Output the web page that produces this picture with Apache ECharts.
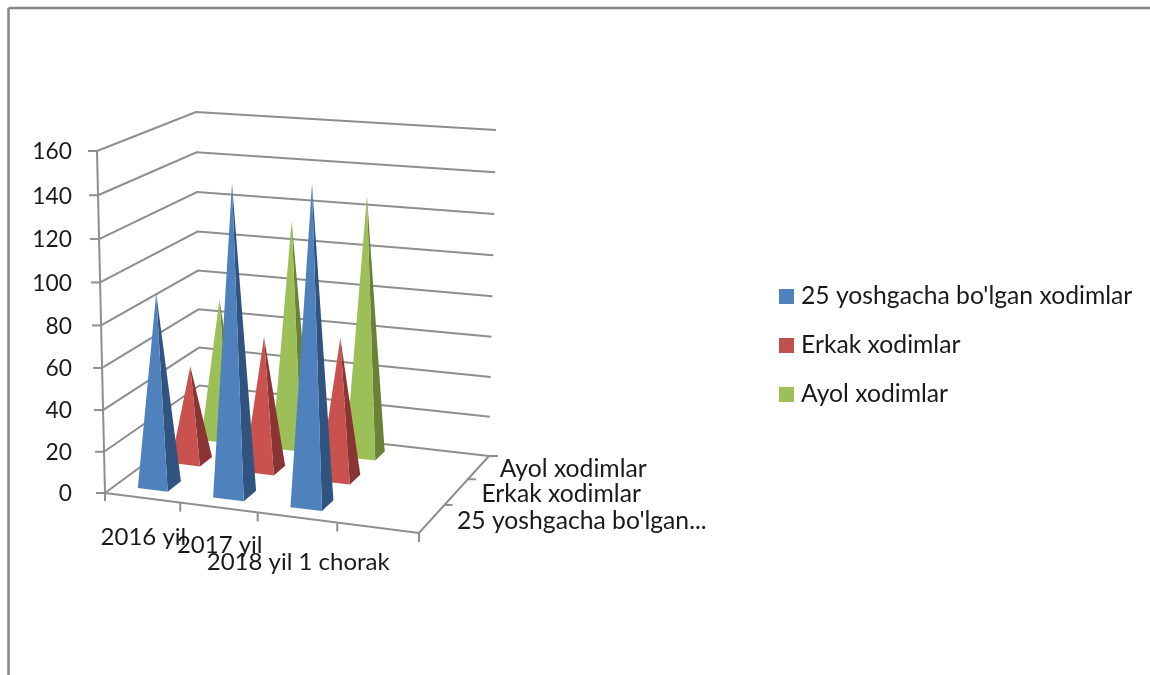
<!DOCTYPE html>
<html>
<head>
<meta charset="utf-8">
<style>html,body{margin:0;padding:0;background:#fff}#c{width:1150px;height:675px}</style>
<script src="https://cdn.jsdelivr.net/npm/echarts@6/dist/echarts.min.js"></script>
</head>
<body>
<div id="c"></div>
<script>
const categories = ['2016 yil', '2017 yil', '2018 yil 1 chorak', ''];
const depthLabels = ["25 yoshgacha bo'lgan...", 'Erkak xodimlar', 'Ayol xodimlar'];
const seriesNames = ["25 yoshgacha bo'lgan xodimlar", 'Erkak xodimlar', 'Ayol xodimlar'];
const yTicks = [0, 20, 40, 60, 80, 100, 120, 140, 160];
const youngStaff = [92, 145, 147];
const maleStaff = [47, 65, 68];
const femaleStaff = [71, 113, 128];

const FONT = '24.7px Lato, "Open Sans", sans-serif';
const CAT_FONT = '24px Lato, "Open Sans", sans-serif';
const NUM_FONT = '22.8px Lato, "Open Sans", sans-serif';
const TEXT = '#1a1a1a';
const LINE = '#8e8e8e';
// Corners of the drawn box: [front|back][left|right][bottom|top]
const box = {
  flb: [105, 493], flt: [97, 151], frb: [419, 533], frt: [423, 168],
  blb: [200, 423], blt: [196, 112], brb: [489, 456], brt: [496, 130]
};
const mix = (a, b, t) => [a[0] + (b[0] - a[0]) * t, a[1] + (b[1] - a[1]) * t];
// Projects a grid pixel plus a depth fraction into the 3D box.
function project(rect, px, py, depth) {
  let u = (px - rect.x) / rect.width;
  let w = (rect.y + rect.height - py) / rect.height;
  u = u - 0.055 * u * (1 - u);
  w = w - 0.04 * w * (1 - w);
  const d = depth + 0.14 * depth * (1 - depth);
  const fb = mix(box.flb, box.frb, u), ft = mix(box.flt, box.frt, u);
  const bb = mix(box.blb, box.brb, u), bt = mix(box.blt, box.brt, u);
  return mix(mix(fb, bb, d), mix(ft, bt, d), w);
}
const shades = [
  { front: '#4F81BD', side: '#30547F' },
  { front: '#C9524F', side: '#8A3433' },
  { front: '#9DBF57', side: '#6A8237' }
];
function pyramid(rowIndex) {
  return function (params, api) {
    const rect = params.coordSys;
    const top = api.coord([api.value(0), api.value(1)]);
    const base = api.coord([api.value(0), 0]);
    const half = api.size([1, 0])[0] * 0.2;
    const dc = (rowIndex + 0.5) / depthLabels.length;
    const dh = 0.2 / depthLabels.length;
    const fl = project(rect, base[0] - half, base[1], dc - dh);
    const fr = project(rect, base[0] + half, base[1], dc - dh);
    const br = project(rect, base[0] + half, base[1], dc + dh);
    const apex = project(rect, top[0], top[1], dc);
    return {
      type: 'group',
      children: [
        { type: 'polygon', shape: { points: [fr, br, apex] }, style: { fill: shades[rowIndex].side } },
        { type: 'polygon', shape: { points: [fl, fr, apex] }, style: { fill: shades[rowIndex].front } }
      ]
    };
  };
}
function gridRow(params, api) {
  const rect = params.coordSys;
  const y = api.coord([0, api.value(0)])[1];
  const left = rect.x, right = rect.x + rect.width;
  const a = project(rect, left, y, 0), b = project(rect, left, y, 1), c = project(rect, right, y, 1);
  return {
    type: 'group',
    children: [
      { type: 'polyline', shape: { points: [a, b, c] }, style: { stroke: LINE, lineWidth: 2, fill: null } },
      { type: 'line', shape: { x1: a[0] - 9, y1: a[1], x2: a[0], y2: a[1] }, style: { stroke: LINE, lineWidth: 2 } },
      { type: 'text', style: { text: String(api.value(0)), x: 72, y: a[1] + 1, align: 'right', verticalAlign: 'middle', font: NUM_FONT, fill: TEXT } }
    ]
  };
}
const xLabelDrop = [40, 38, 45];
const depthLabelGap = [25, 25, 21];
function floorAxes(params, api) {
  const rect = params.coordSys;
  const yb = rect.y + rect.height, xl = rect.x, xr = rect.x + rect.width;
  const children = [];
  const fl = project(rect, xl, yb, 0), fr = project(rect, xr, yb, 0), br = project(rect, xr, yb, 1);
  children.push({ type: 'polyline', shape: { points: [fl, fr, br] }, style: { stroke: LINE, lineWidth: 2, fill: null } });
  children.push({ type: 'line', shape: { x1: br[0], y1: br[1], x2: br[0] + 9, y2: br[1] }, style: { stroke: LINE, lineWidth: 2 } });
  children.push({ type: 'line', shape: { x1: fl[0], y1: fl[1] + 8, x2: fl[0], y2: fl[1] }, style: { stroke: LINE, lineWidth: 2 } });
  children.push({ type: 'polyline', shape: { points: yTicks.map(v => project(rect, xl, api.coord([0, v])[1], 0)) }, style: { stroke: LINE, lineWidth: 2, fill: null } });
  const slot = rect.width / categories.length;
  categories.forEach((name, i) => {
    const t = project(rect, xl + slot * (i + 1), yb, 0);
    children.push({ type: 'line', shape: { x1: t[0], y1: t[1], x2: t[0], y2: t[1] + 9 }, style: { stroke: LINE, lineWidth: 2 } });
    if (name) {
      const c = project(rect, xl + slot * (i + 0.5), yb, 0);
      children.push({ type: 'text', style: { text: name, x: c[0] + 1, y: c[1] + xLabelDrop[i], align: 'center', verticalAlign: 'middle', font: CAT_FONT, fill: TEXT } });
    }
  });
  depthLabels.forEach((name, i) => {
    const n = depthLabels.length;
    const t = project(rect, xr, yb, (i + 1) / n);
    if (i < n - 1) children.push({ type: 'line', shape: { x1: t[0], y1: t[1], x2: t[0] + 8, y2: t[1] }, style: { stroke: LINE, lineWidth: 2 } });
    const c = project(rect, xr, yb, (i + 0.5) / n);
    children.push({ type: 'text', style: { text: name, x: c[0] + depthLabelGap[i], y: c[1] + 2, align: 'left', verticalAlign: 'middle', font: FONT, fill: TEXT } });
  });
  return { type: 'group', children };
}
const chart = echarts.init(document.getElementById('c'), null, { renderer: 'canvas' });
chart.setOption({
  animation: false,
  backgroundColor: '#fff',
  grid: { left: 105, right: 731, top: 151, bottom: 182 },
  xAxis: { type: 'category', data: categories, show: false },
  yAxis: { type: 'value', min: 0, max: 160, interval: 20, show: false },
  legend: {
    orient: 'vertical', left: 779, top: 284, padding: 0, itemGap: 24, itemWidth: 15, itemHeight: 15, icon: 'rect',
    data: seriesNames, selectedMode: false,
    textStyle: { fontFamily: 'Lato', fontSize: 24.7, lineHeight: 24, color: TEXT, padding: [0, 0, 0, 2] }
  },
  graphic: [
    { type: 'line', shape: { x1: 8.5, y1: 8, x2: 1150, y2: 8 }, style: { stroke: '#868686', lineWidth: 2.5 } },
    { type: 'line', shape: { x1: 8.5, y1: 8, x2: 8.5, y2: 675 }, style: { stroke: '#868686', lineWidth: 2.5 } }
  ],
  series: [
    { type: 'custom', name: 'grid', z: 1, silent: true, data: yTicks.map(v => [v]), encode: { y: 0 }, renderItem: gridRow },
    { type: 'custom', name: 'axes', z: 1, silent: true, data: [[0]], renderItem: floorAxes },
    { type: 'custom', name: seriesNames[0], z: 5, silent: true, itemStyle: { color: shades[0].front }, data: youngStaff.map((v, i) => [i, v]), encode: { x: 0, y: 1 }, renderItem: pyramid(0) },
    { type: 'custom', name: seriesNames[1], z: 4, silent: true, itemStyle: { color: '#C0504D' }, data: maleStaff.map((v, i) => [i, v]), encode: { x: 0, y: 1 }, renderItem: pyramid(1) },
    { type: 'custom', name: seriesNames[2], z: 3, silent: true, itemStyle: { color: shades[2].front }, data: femaleStaff.map((v, i) => [i, v]), encode: { x: 0, y: 1 }, renderItem: pyramid(2) }
  ]
});
</script>
</body>
</html>
